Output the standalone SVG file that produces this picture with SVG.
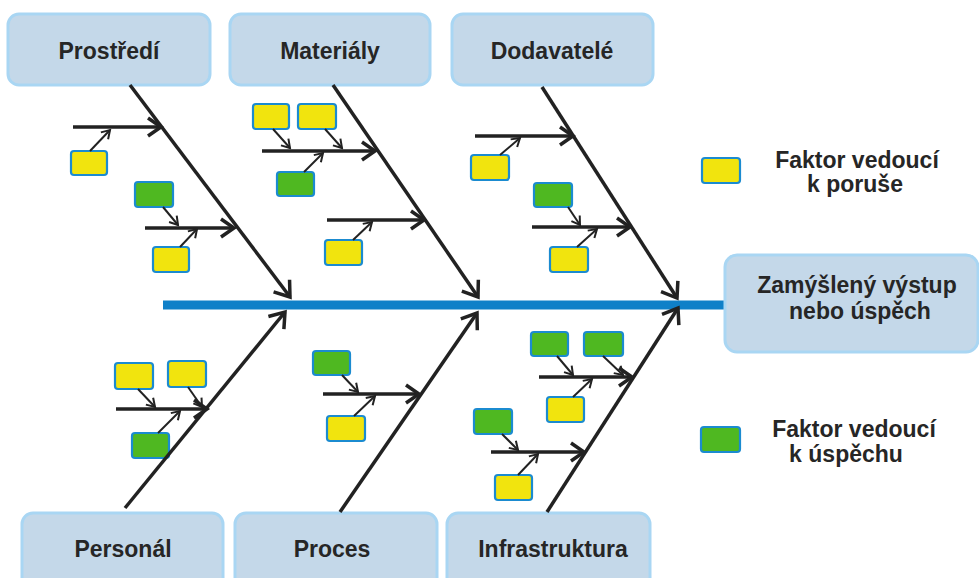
<svg xmlns="http://www.w3.org/2000/svg" width="979" height="578" viewBox="0 0 979 578">
<defs>
<style>
.cat{fill:#c4d8e9;stroke:#a9d6f3;stroke-width:3}
.t{font-family:"Liberation Sans",Arial,sans-serif;font-weight:bold;font-size:23px;fill:#262626;text-anchor:middle}
.y{fill:#f1e40e;stroke:#1b8bd0;stroke-width:2.2}
.g{fill:#4fb821;stroke:#1b8bd0;stroke-width:2.2}
.bone{stroke:#222;stroke-width:3.5;fill:none;marker-end:url(#big)}
.sub{stroke:#222;stroke-width:3.5;fill:none;marker-end:url(#mid)}
.sm{stroke:#222;stroke-width:2;fill:none;marker-end:url(#small)}
</style>
<marker id="big" markerUnits="userSpaceOnUse" markerWidth="20" markerHeight="24" viewBox="0 0 20 24" refX="16" refY="12" orient="auto"><path d="M2,2 L16,12 L2,22" fill="none" stroke="#222" stroke-width="3.5"/></marker>
<marker id="mid" markerUnits="userSpaceOnUse" markerWidth="20" markerHeight="24" viewBox="0 0 20 24" refX="16" refY="12" orient="auto"><path d="M3,3 L16,12 L3,21" fill="none" stroke="#222" stroke-width="3.5"/></marker>
<marker id="small" markerUnits="userSpaceOnUse" markerWidth="12" markerHeight="14" viewBox="0 0 12 14" refX="10" refY="7" orient="auto"><path d="M2,2 L10,7 L2,12" fill="none" stroke="#222" stroke-width="2"/></marker>
</defs>
<rect width="979" height="578" fill="#fff"/>

<g id="spine"><line x1="163" y1="305" x2="727" y2="305" stroke="#0f80c8" stroke-width="9"/></g>

<g id="prostredi"><rect class="cat" x="8" y="14" width="202" height="71" rx="11"/><text class="t" x="109" y="59">Prostředí</text></g>
<g id="materialy"><rect class="cat" x="230" y="14" width="200" height="71" rx="11"/><text class="t" x="330" y="59">Materiály</text></g>
<g id="dodavatele"><rect class="cat" x="452" y="14" width="201" height="71" rx="11"/><text class="t" x="552" y="59">Dodavatelé</text></g>
<g id="personal"><rect class="cat" x="22" y="513" width="201" height="80" rx="11"/><text class="t" x="123" y="557">Personál</text></g>
<g id="proces"><rect class="cat" x="235" y="513" width="202" height="80" rx="11"/><text class="t" x="332" y="557">Proces</text></g>
<g id="infrastruktura"><rect class="cat" x="447" y="513" width="203" height="80" rx="11"/><text class="t" x="553" y="557">Infrastruktura</text></g>
<g id="vystup"><rect class="cat" x="725" y="255" width="253" height="97" rx="12"/><text class="t" x="857" y="293">Zamýšlený výstup</text><text class="t" x="860" y="319">nebo úspěch</text></g>

<g id="legend-yellow"><rect class="y" x="702" y="158" width="38" height="25" rx="3"/><text class="t" x="857" y="168">Faktor vedoucí</text><text class="t" x="855" y="192">k poruše</text></g>
<g id="legend-green"><rect class="g" x="701" y="427" width="39" height="25" rx="3"/><text class="t" x="854" y="437">Faktor vedoucí</text><text class="t" x="846" y="462">k úspěchu</text></g>

<g id="factors">
<rect class="y" x="71" y="151" width="36" height="24" rx="3"/>
<rect class="g" x="135" y="182" width="38" height="25" rx="3"/>
<rect class="y" x="153" y="247" width="36" height="25" rx="3"/>
<rect class="y" x="253" y="104" width="36" height="25" rx="3"/>
<rect class="y" x="298" y="104" width="38" height="25" rx="3"/>
<rect class="g" x="277" y="172" width="37" height="24" rx="3"/>
<rect class="y" x="325" y="240" width="37" height="25" rx="3"/>
<rect class="y" x="471" y="155" width="38" height="25" rx="3"/>
<rect class="g" x="534" y="183" width="38" height="24" rx="3"/>
<rect class="y" x="550" y="247" width="38" height="25" rx="3"/>
<rect class="y" x="115" y="363" width="38" height="26" rx="3"/>
<rect class="y" x="168" y="361" width="38" height="26" rx="3"/>
<rect class="g" x="132" y="433" width="37" height="25" rx="3"/>
<rect class="g" x="313" y="351" width="37" height="24" rx="3"/>
<rect class="y" x="327" y="416" width="38" height="25" rx="3"/>
<rect class="g" x="531" y="332" width="37" height="24" rx="3"/>
<rect class="g" x="584" y="332" width="39" height="24" rx="3"/>
<rect class="y" x="547" y="397" width="37" height="25" rx="3"/>
<rect class="g" x="474" y="409" width="38" height="25" rx="3"/>
<rect class="y" x="495" y="475" width="37" height="25" rx="3"/>
</g>

<g id="connectors">
<line class="bone" x1="130" y1="85" x2="290" y2="297"/>
<line class="bone" x1="333" y1="85" x2="478" y2="297"/>
<line class="bone" x1="542" y1="87" x2="677" y2="298"/>
<line class="bone" x1="125" y1="508" x2="285" y2="312"/>
<line class="bone" x1="340" y1="512" x2="477" y2="313"/>
<line class="bone" x1="547" y1="512" x2="678" y2="308"/>

<line class="sub" x1="73" y1="127" x2="161" y2="127"/>
<line class="sub" x1="145" y1="228" x2="234" y2="228"/>
<line class="sub" x1="262" y1="151" x2="375" y2="151"/>
<line class="sub" x1="327" y1="220" x2="424" y2="220"/>
<line class="sub" x1="475" y1="136" x2="573" y2="136"/>
<line class="sub" x1="532" y1="227" x2="630" y2="227"/>
<line class="sub" x1="116" y1="409" x2="207" y2="409"/>
<line class="sub" x1="323" y1="394" x2="419" y2="394"/>
<line class="sub" x1="539" y1="377" x2="632" y2="377"/>
<line class="sub" x1="491" y1="452" x2="584" y2="452"/>

<line class="sm" x1="90" y1="151" x2="110" y2="130"/>
<line class="sm" x1="163" y1="207" x2="178" y2="225"/>
<line class="sm" x1="180" y1="247" x2="197" y2="229"/>
<line class="sm" x1="273" y1="129" x2="290" y2="148"/>
<line class="sm" x1="325" y1="129" x2="342" y2="148"/>
<line class="sm" x1="304" y1="172" x2="323" y2="153"/>
<line class="sm" x1="353" y1="240" x2="372" y2="222"/>
<line class="sm" x1="500" y1="155" x2="520" y2="138"/>
<line class="sm" x1="568" y1="207" x2="580" y2="225"/>
<line class="sm" x1="577" y1="247" x2="597" y2="229"/>
<line class="sm" x1="138" y1="389" x2="155" y2="407"/>
<line class="sm" x1="188" y1="387" x2="202" y2="407"/>
<line class="sm" x1="158" y1="433" x2="180" y2="411"/>
<line class="sm" x1="342" y1="375" x2="358" y2="392"/>
<line class="sm" x1="354" y1="416" x2="375" y2="396"/>
<line class="sm" x1="557" y1="356" x2="573" y2="375"/>
<line class="sm" x1="603" y1="356" x2="623" y2="375"/>
<line class="sm" x1="573" y1="397" x2="592" y2="379"/>
<line class="sm" x1="502" y1="434" x2="518" y2="450"/>
<line class="sm" x1="518" y1="475" x2="538" y2="454"/>
</g>
</svg>
